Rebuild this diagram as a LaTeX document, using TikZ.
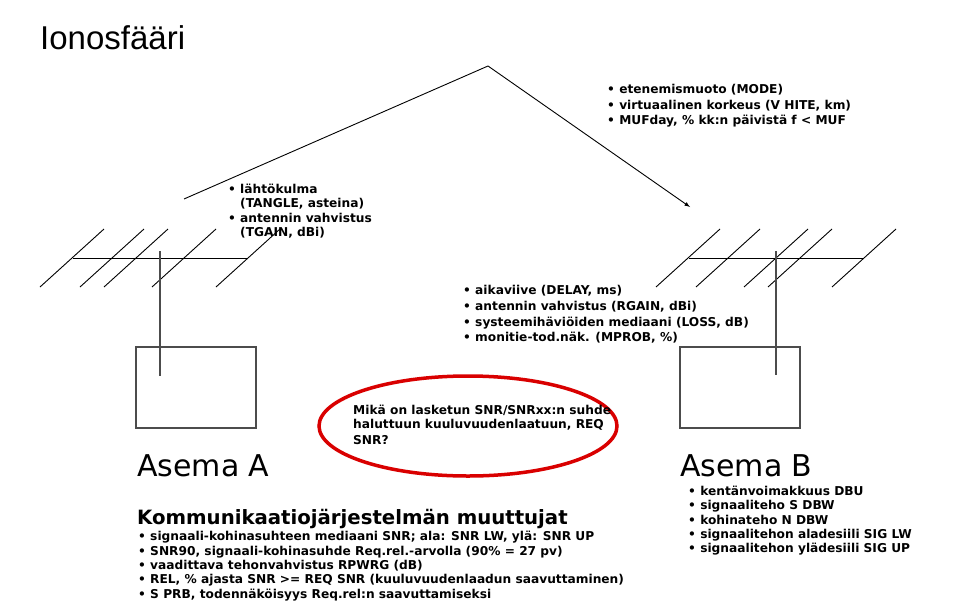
\documentclass[tikz,border=0pt]{standalone}
\usepackage{fontspec}
\setmainfont{DejaVu Sans}
\newfontfamily\arialf{Liberation Sans}
\begin{document}
\begin{tikzpicture}[x=1pt,y=-1pt,
  txt/.style={anchor=west,inner sep=0pt,font=\fontsize{12.2}{13}\selectfont\bfseries},
  big/.style={anchor=west,inner sep=0pt,font=\fontsize{30}{34}\selectfont},
  ln/.style={line width=0.9pt},
  box/.style={draw=black!70,line width=1.1pt}]
\useasboundingbox (0,0) rectangle (960,605);
\newcommand\bl[4]{\node[txt] (#1) at (#2,#3) {\textbullet\ #4};}
% title
\node[anchor=west,inner sep=0pt,font=\arialf\fontsize{33}{36}\selectfont] (title) at (40,38) {Ionosfääri};
% ray
\coordinate (rs) at (184,199);
\coordinate (apex) at (488,66);
\coordinate (re) at (690,207);
\draw[ln] (rs) -- (apex);
\draw[ln,-latex] (apex) -- (re);
% antenna A
\draw[ln] (73,258) -- (248,258);
\foreach \x in {40,80,104,152,216} \draw[ln] (\x,287) -- (\x+64,229);
\draw[box] (136,347) rectangle (256,428);
\draw[box] (160,251) -- (160,376);
% antenna B
\draw[ln] (689,258) -- (863,258);
\foreach \x in {656,696,744,768,832} \draw[ln] (\x,287) -- (\x+64,229);
\draw[box] (680,347) rectangle (800,428);
\draw[box] (776,251) -- (776,375);
% ellipse
\draw[red!85!black,line width=3.5pt] (468,426) ellipse [x radius=149, y radius=50];
% texts
\bl{t1}{607}{90}{etenemismuoto (MODE)}
\bl{t2}{607}{106}{virtuaalinen korkeus (V HITE, km)}
\bl{t3}{607}{121}{MUFday, \% kk:n päivistä f < MUF}
\bl{a1}{228}{189}{lähtökulma}
\node[txt] (a2) at (240,204) {(TANGLE, asteina)};
\bl{a3}{228}{218}{antennin vahvistus}
\node[txt] (a4) at (240,233) {(TGAIN, dBi)};
\bl{m1}{463}{291}{aikaviive (DELAY, ms)}
\bl{m2}{463}{307}{antennin vahvistus (RGAIN, dBi)}
\bl{m3}{463}{323}{systeemihäviöiden mediaani (LOSS, dB)}
\bl{m4}{463}{338}{monitie-tod.näk. (MPROB, \%)}
\node[txt] (q1) at (353,410) {Mikä on lasketun SNR/SNRxx:n suhde};
\node[txt] (q2) at (353,425) {haluttuun kuuluvuudenlaatuun, REQ};
\node[txt] (q3) at (353,440) {SNR?};
\node[big] (asA) at (137,466) {Asema A};
\node[big] (asB) at (680,466) {Asema B};
\bl{b1}{688}{491}{kentänvoimakkuus DBU}
\bl{b2}{688}{506}{signaaliteho S DBW}
\bl{b3}{688}{520}{kohinateho N DBW}
\bl{b4}{688}{535}{signaalitehon aladesiili SIG LW}
\bl{b5}{688}{549}{signaalitehon ylädesiili SIG UP}
\node[anchor=west,inner sep=0pt,font=\fontsize{19.7}{22}\selectfont\bfseries] (kh) at (137,519) {Kommunikaatiojärjestelmän muuttujat};
\bl{k1}{138}{537}{signaali-kohinasuhteen mediaani SNR; ala: SNR LW, ylä: SNR UP}
\bl{k2}{138}{552}{SNR90, signaali-kohinasuhde Req.rel.-arvolla (90\% = 27 pv)}
\bl{k3}{138}{566}{vaadittava tehonvahvistus RPWRG (dB)}
\bl{k4}{138}{580}{REL, \% ajasta SNR >= REQ SNR (kuuluvuudenlaadun saavuttaminen)}
\bl{k5}{138}{595}{S PRB, todennäköisyys Req.rel:n saavuttamiseksi}
\end{tikzpicture}
\end{document}
